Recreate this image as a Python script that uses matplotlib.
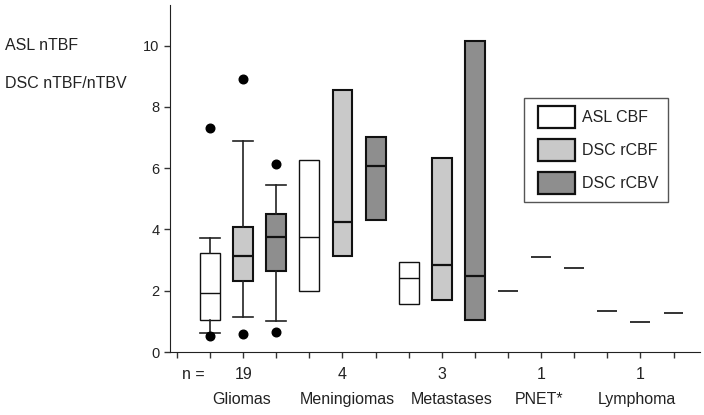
import matplotlib
matplotlib.use("Agg")
import matplotlib.pyplot as plt
from matplotlib.patches import Patch, Rectangle

plt.rcParams['font.family'] = ['Liberation Sans', 'DejaVu Sans']

# ---- data ----
box_groups = ["Gliomas", "Meningiomas", "Metastases"]
single_groups = ["PNET*", "Lymphoma"]
n_labels = ["19", "4", "3", "1", "1"]
series = ["ASL CBF", "DSC rCBF", "DSC rCBV"]

# box statistics per series, for Gliomas, Meningiomas, Metastases
asl_q1 = [1.04, 1.98, 1.56]
asl_med = [1.92, 3.77, 2.43]
asl_q3 = [3.22, 6.27, 2.95]
asl_lo = [0.62, 1.98, 1.56]
asl_hi = [3.71, 6.27, 2.95]
asl_out = [[7.3, 0.53], [], []]

rcbf_q1 = [2.33, 3.15, 1.70]
rcbf_med = [3.15, 4.24, 2.83]
rcbf_q3 = [4.07, 8.55, 6.35]
rcbf_lo = [1.13, 3.15, 1.70]
rcbf_hi = [6.90, 8.55, 6.35]
rcbf_out = [[8.9, 0.6], [], []]

rcbv_q1 = [2.66, 4.31, 1.04]
rcbv_med = [3.77, 6.07, 2.48]
rcbv_q3 = [4.50, 7.02, 10.15]
rcbv_lo = [1.00, 4.31, 1.04]
rcbv_hi = [5.45, 7.02, 10.15]
rcbv_out = [[6.15, 0.64], [], []]

# single values (PNET*, Lymphoma)
asl_single = [2.0, 1.34]
rcbf_single = [3.09, 0.97]
rcbv_single = [2.74, 1.26]

y_ticks = [0, 2, 4, 6, 8, 10]

# ---- style ----
fills = ["#ffffff", "#c9c9c9", "#8e8e8e"]
edge_lw = [1.0, 1.5, 1.5]
med_lw = [1.0, 1.6, 1.6]
txt = "#222222"
fs = 11.5

fig = plt.figure(figsize=(7.04, 4.15), dpi=100)
ax = fig.add_axes([170/704, 1-352/415, 530/704, 347/415])

stats_by_series = [
    (asl_q1, asl_med, asl_q3, asl_lo, asl_hi, asl_out),
    (rcbf_q1, rcbf_med, rcbf_q3, rcbf_lo, rcbf_hi, rcbf_out),
    (rcbv_q1, rcbv_med, rcbv_q3, rcbv_lo, rcbv_hi, rcbv_out),
]

for g in range(len(box_groups)):
    for s, (q1, med, q3, lo, hi, out) in enumerate(stats_by_series):
        pos = 1 + 3 * g + s
        st = [dict(q1=q1[g], med=med[g], q3=q3[g], whislo=lo[g], whishi=hi[g], fliers=out[g])]
        has_whisk = lo[g] < q1[g] or hi[g] > q3[g]
        ax.bxp(st, positions=[pos], widths=0.6, patch_artist=True,
               showcaps=has_whisk, showfliers=True,
               boxprops=dict(facecolor=fills[s], edgecolor="#111111", linewidth=edge_lw[s]),
               medianprops=dict(color="#111111", linewidth=med_lw[s]),
               whiskerprops=dict(color="#222222", linewidth=1.2),
               capprops=dict(color="#222222", linewidth=1.2),
               capwidths=0.6,
               flierprops=dict(marker="o", markerfacecolor="black", markeredgecolor="black",
                               markersize=6.2))

singles = [asl_single, rcbf_single, rcbv_single]
for g in range(len(single_groups)):
    for s in range(3):
        pos = 1 + 3 * (len(box_groups) + g) + s
        ax.hlines(singles[s][g], pos - 0.3, pos + 0.3, color="#333333", linewidth=1.4)

ax.set_xlim(-0.21, 15.8)
ax.set_ylim(0, 11.33)
ax.set_yticks(y_ticks)
ax.set_yticklabels([str(v) for v in y_ticks], fontsize=10.5, color=txt)
ax.set_xticks(range(16))
ax.set_xticklabels([])
ax.tick_params(axis="both", direction="out", length=4, width=1, color="#333333")
ax.spines["top"].set_visible(False)
ax.spines["right"].set_visible(False)
ax.spines["left"].set_color("#222222")
ax.spines["bottom"].set_color("#222222")

# n labels and group labels
n_x = [2, 5, 8, 11, 14]
for x, t in zip(n_x, n_labels):
    ax.annotate(t, xy=(x, 0), xycoords=("data", "axes fraction"), xytext=(0, -16.5),
                textcoords="offset points", ha="center", va="center", fontsize=fs, color=txt)
ax.annotate("n =", xy=(0.5, 0), xycoords=("data", "axes fraction"), xytext=(0, -16.5),
            textcoords="offset points", ha="center", va="center", fontsize=fs, color=txt)
grp_x = [1.95, 5.15, 8.3, 10.95, 13.9]
for x, t in zip(grp_x, box_groups + single_groups):
    ax.annotate(t, xy=(x, 0), xycoords=("data", "axes fraction"), xytext=(0, -34.5),
                textcoords="offset points", ha="center", va="center", fontsize=fs, color=txt)

fig.text(5/704, 1-45/415, "ASL nTBF", ha="left", va="center", fontsize=fs, color=txt)
fig.text(5/704, 1-83/415, "DSC nTBF/nTBV", ha="left", va="center", fontsize=fs, color=txt)

# legend frame drawn as a rectangle in figure coordinates
fig.patches.append(Rectangle((524/704, 1-202/415), 144/704, 104/415, transform=fig.transFigure,
                             facecolor="white", edgecolor="#555555", linewidth=1.0, zorder=3))
handles = [Patch(facecolor=fills[i], edgecolor="#111111", linewidth=1.6) for i in range(3)]
leg = fig.legend(handles, series, loc="upper left", bbox_to_anchor=(538/704, 1-106/415),
                 frameon=False, fontsize=fs,
                 handlelength=2.3, handleheight=1.7, labelspacing=0.72,
                 handletextpad=0.45, borderpad=0, borderaxespad=0)
leg.set_zorder(4)
for t in leg.get_texts():
    t.set_color(txt)

fig.savefig("out.png", dpi=100)
